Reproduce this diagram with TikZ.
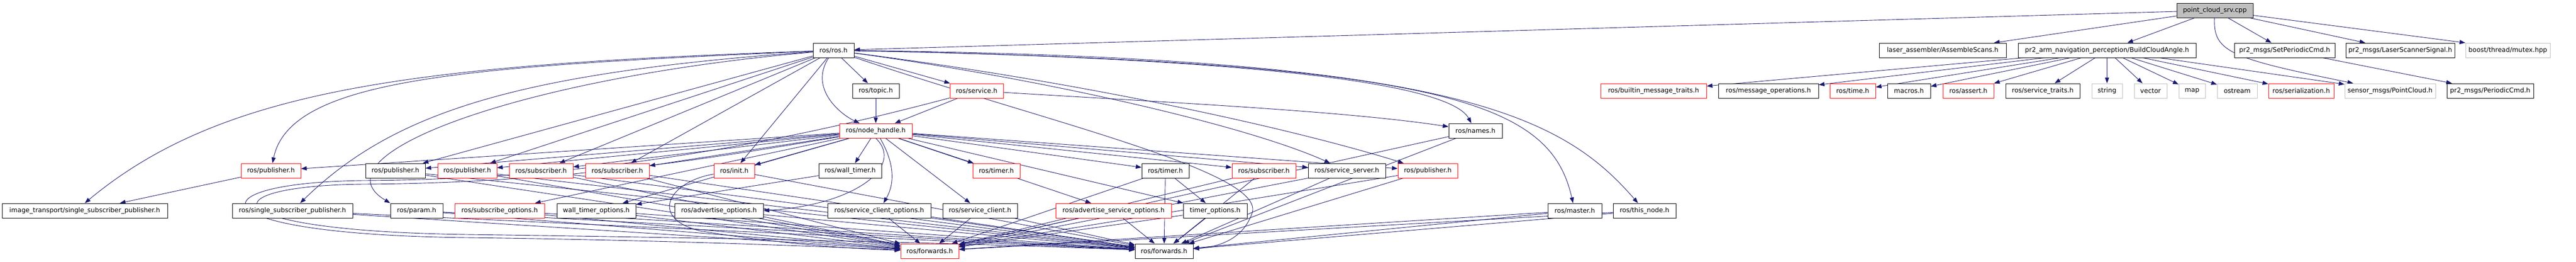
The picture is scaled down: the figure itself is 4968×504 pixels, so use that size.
\documentclass[tikz,border=0pt]{standalone}
\usepackage{fontspec}
\newfontfamily\dxfont{DejaVu Sans}
\usetikzlibrary{arrows.meta}
\definecolor{edgeblue}{RGB}{25,25,112}
\definecolor{extgray}{RGB}{191,191,191}
\pgfdeclarelayer{edges}
\pgfsetlayers{edges,main}
\tikzset{
  hfile/.style={draw=black, fill=white, line width=1pt, minimum height=28pt,
    inner sep=0pt, font=\dxfont\fontsize{12.5}{15}\selectfont},
  trunc/.style={hfile, draw=red},
  sysfile/.style={hfile, draw=extgray},
  srcfile/.style={hfile, fill=extgray},
  dep/.style={draw=edgeblue, line width=0.9pt, -{Triangle[length=11pt,width=8pt]}}
}
\begin{document}
\begin{tikzpicture}[x=1pt,y=-1pt]
  \useasboundingbox (0,0) rectangle (4968,504);
  % top
  \node[srcfile, minimum width=147pt] (src) at (4271.5,20) {point\_cloud\_srv.cpp};
  % row 1
  \node[hfile, minimum width=79pt] (ros) at (1607.5,97) {ros/ros.h};
  \node[hfile, minimum width=245pt] (asm) at (3746.5,97) {laser\_assembler/AssembleScans.h};
  \node[hfile, minimum width=343pt] (bca) at (4063.5,97) {pr2\_arm\_navigation\_perception/BuildCloudAngle.h};
  \node[hfile, minimum width=194pt] (spc) at (4406,97) {pr2\_msgs/SetPeriodicCmd.h};
  \node[hfile, minimum width=210pt] (lss) at (4629,97) {pr2\_msgs/LaserScannerSignal.h};
  \node[sysfile, minimum width=163pt] (mtx) at (4836.5,97) {boost/thread/mutex.hpp};
  % row 2
  \node[hfile, minimum width=90pt] (topic) at (1689,175) {ros/topic.h};
  \node[trunc, minimum width=103pt] (srv) at (1883.5,175) {ros/service.h};
  \node[trunc, minimum width=204pt] (bmt) at (3189,175) {ros/builtin\_message\_traits.h};
  \node[hfile, minimum width=193pt] (mop) at (3410.5,175) {ros/message\_operations.h};
  \node[trunc, minimum width=88pt] (time) at (3573,175) {ros/time.h};
  \node[hfile, minimum width=83pt] (mac) at (3681.5,175) {macros.h};
  \node[trunc, minimum width=98pt] (ast) at (3796,175) {ros/assert.h};
  \node[hfile, minimum width=143pt] (stt) at (3939.5,175) {ros/service\_traits.h};
  \node[sysfile, minimum width=59pt] (str) at (4063.5,175) {string};
  \node[sysfile, minimum width=63pt] (vec) at (4147.5,175) {vector};
  \node[sysfile, minimum width=51pt] (map) at (4227.5,175) {map};
  \node[sysfile, minimum width=77pt] (ost) at (4314.5,175) {ostream};
  \node[trunc, minimum width=126pt] (ser) at (4438,175) {ros/serialization.h};
  \node[sysfile, minimum width=175pt] (pcl) at (4609.5,175) {sensor\_msgs/PointCloud.h};
  \node[hfile, minimum width=167pt] (pcmd) at (4802.5,175) {pr2\_msgs/PeriodicCmd.h};
  % row 3
  \node[trunc, minimum width=140pt] (nh) at (1689,252) {ros/node\_handle.h};
  \node[hfile, minimum width=103pt] (names) at (2845.5,252) {ros/names.h};
  % row 4
  \node[trunc, minimum width=115pt] (pubA) at (522.5,329) {ros/publisher.h};
  \node[hfile, minimum width=115pt] (pubB) at (762.5,329) {ros/publisher.h};
  \node[trunc, minimum width=114pt] (pubC) at (901,329) {ros/publisher.h};
  \node[trunc, minimum width=123pt] (subA) at (1043.5,329) {ros/subscriber.h};
  \node[trunc, minimum width=123pt] (subB) at (1190.5,329) {ros/subscriber.h};
  \node[trunc, minimum width=78pt] (init) at (1416,329) {ros/init.h};
  \node[hfile, minimum width=121pt] (wt) at (1639.5,329) {ros/wall\_timer.h};
  \node[trunc, minimum width=91pt] (tmA) at (1921.5,329) {ros/timer.h};
  \node[hfile, minimum width=91pt] (tmB) at (2247.5,329) {ros/timer.h};
  \node[trunc, minimum width=123pt] (subC) at (2437.5,329) {ros/subscriber.h};
  \node[hfile, minimum width=149pt] (ss) at (2597.5,329) {ros/service\_server.h};
  \node[trunc, minimum width=115pt] (pubD) at (2753.5,329) {ros/publisher.h};
  % row 5
  \node[hfile, minimum width=319pt] (itssp) at (163.5,406) {image\_transport/single\_subscriber\_publisher.h};
  \node[hfile, minimum width=232pt] (ssp) at (564,406) {ros/single\_subscriber\_publisher.h};
  \node[hfile, minimum width=101pt] (param) at (803.5,406) {ros/param.h};
  \node[trunc, minimum width=173pt] (subo) at (963.5,406) {ros/subscribe\_options.h};
  \node[hfile, minimum width=152pt] (wto) at (1150,406) {wall\_timer\_options.h};
  \node[hfile, minimum width=171pt] (ado) at (1386.5,406) {ros/advertise\_options.h};
  \node[hfile, minimum width=199pt] (sco) at (1695.5,406) {ros/service\_client\_options.h};
  \node[hfile, minimum width=144pt] (sc) at (1890,406) {ros/service\_client.h};
  \node[trunc, minimum width=223pt] (aso) at (2147.5,406) {ros/advertise\_service\_options.h};
  \node[hfile, minimum width=123pt] (tmo) at (2343.5,406) {timer\_options.h};
  \node[hfile, minimum width=104pt] (master) at (3037,406) {ros/master.h};
  \node[hfile, minimum width=121pt] (thn) at (3171.5,406) {ros/this\_node.h};
  % row 6
  \node[trunc, minimum width=112pt] (fwA) at (1793,484) {ros/forwards.h};
  \node[hfile, minimum width=112pt] (fwB) at (2245,484) {ros/forwards.h};

  \begin{pgfonlayer}{edges}
  \foreach \a/\b in {src/ros,src/asm,src/bca,src/spc,src/lss,
      bca/bmt,bca/mop,bca/time,bca/mac,bca/ast,bca/stt,bca/str,bca/vec,
      bca/map,bca/ost,bca/ser,bca/pcl,spc/pcmd,
      ros/topic,ros/srv,ros/pubB,ros/pubC,ros/subA,ros/subB,ros/init,
      topic/nh,srv/nh,pubA/itssp,wt/wto,tmB/tmo,
      nh/pubA,nh/pubB,nh/pubC,nh/subA,nh/subB,nh/init,nh/wt,nh/tmA,
      nh/tmB,nh/subC,nh/ss,nh/pubD,nh/wto,nh/subo,nh/sc,nh/aso,nh/tmo}
    \draw[dep] (\a) -- (\b);
  \draw[dep] (src) -- (mtx.north west);
  \draw[dep] (src) .. controls (4268,100) and (4300,112) .. (pcl);
  % ros.h fans out
  \draw[dep] (ros) .. controls (900,128) and (560,150) .. (pubA);
  \draw[dep] (ros) .. controls (800,125) and (430,170) .. (itssp.north);
  \draw[dep] (ros) .. controls (1000,140) and (760,215) .. (ssp);
  \draw[dep] (ros) .. controls (1000,150) and (600,300) .. (param.north west);
  \draw[dep] (ros) .. controls (1560,170) and (1620,220) .. (nh);
  \draw[dep] (ros) .. controls (2000,150) and (2400,240) .. (ss);
  \draw[dep] (ros) .. controls (2100,160) and (2500,250) .. (pubD);
  \draw[dep] (ros) .. controls (2300,110) and (2790,150) .. (names);
  \draw[dep] (ros) .. controls (2800,120) and (2990,200) .. (master);
  \draw[dep] (ros) .. controls (2800,110) and (3010,220) .. (thn);
  \draw[dep] (ros) .. controls (2000,230) and (2440,330) .. (2415,410)
    .. controls (2400,455) and (2360,475) .. (fwB);
  \draw[dep] (srv) .. controls (2300,200) and (2600,215) .. (names);
  \draw[dep] (nh.south) .. controls (1745,320) and (1650,395) .. (ado.east);
  \draw[dep] (nh) to[out=-60,in=60] (sco);
  % loops round the left
  \draw[dep] (srv) .. controls (1450,290) and (1100,346) .. (700,348)
    .. controls (370,352) and (370,452) .. (900,458)
    .. controls (1300,463) and (1600,476) .. (fwA);
  \draw[dep] (nh) .. controls (1400,300) and (1100,353) .. (700,355)
    .. controls (400,358) and (400,445) .. (900,452)
    .. controls (1500,460) and (1900,470) .. (fwB);
  \draw[dep] (init) .. controls (1290,350) and (1250,420) .. (1350,445)
    .. controls (1500,470) and (1650,480) .. (fwA);
  \draw[dep] (init) -- (fwB);
  % into the two forwards.h
  \foreach \f in {ssp,param,subo,wto,ado,pubB,pubC,subA,subB,sco,sc,aso,
      tmo,tmB,subC,ss,pubD,names,master,thn}
  {
    \draw[dep] (\f) -- (fwA);
    \draw[dep] (\f) -- (fwB);
  }
  \end{pgfonlayer}
\end{tikzpicture}
\end{document}
